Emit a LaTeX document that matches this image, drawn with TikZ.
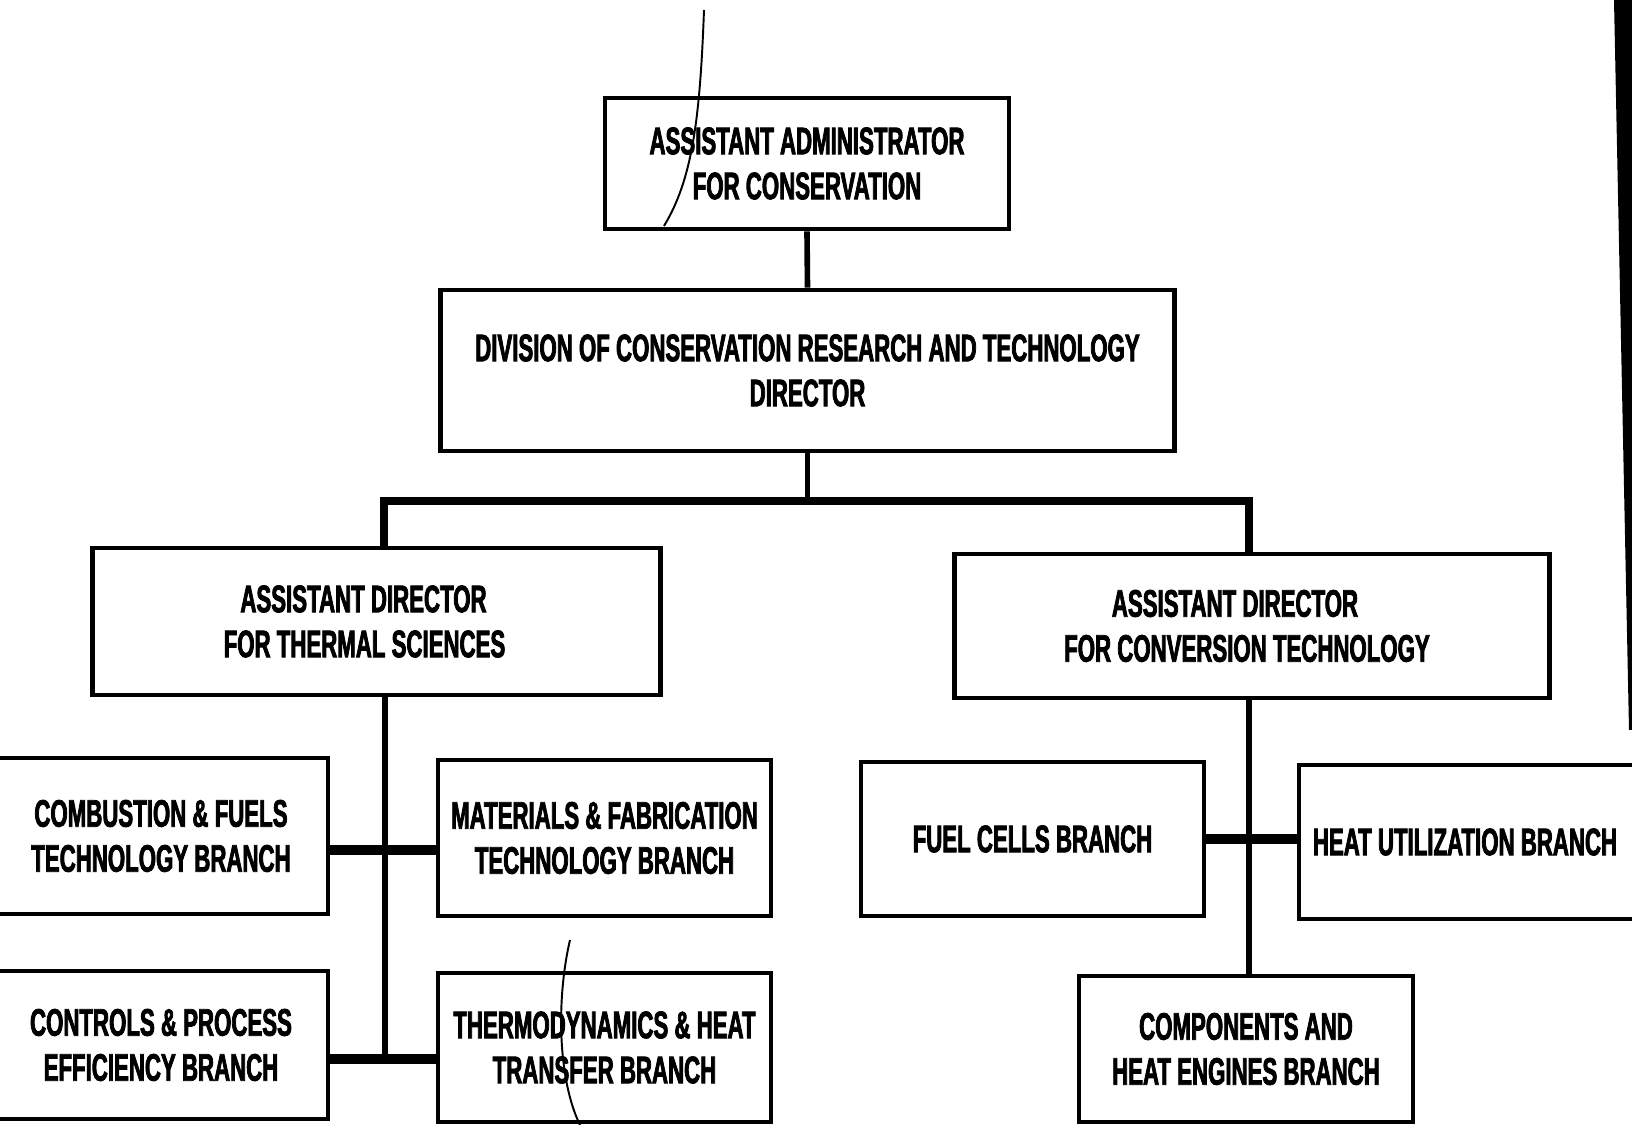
\documentclass[tikz,border=0pt]{standalone}
\usepackage{fontspec}
\newfontfamily\orgfont{Liberation Sans}[FakeStretch=0.58,FakeBold=2]
\begin{document}
\begin{tikzpicture}[x=0.01cm,y=-0.01cm,
  orgbox/.style={draw, rectangle, line width=1.35pt, inner sep=0pt, align=center,
    font=\orgfont\bfseries\fontsize{10.9}{12.8}\selectfont},
  link/.style={line width=1.6pt},
  busline/.style={line width=2.3pt, line join=miter},
  tee/.style={line width=2.7pt},
  penline/.style={line width=0.55pt}]
\useasboundingbox (0,0) rectangle (1632,1125);
\fill[white] (0,0) rectangle (1632,1125);
\clip (0,0) rectangle (1632,1125);

% top of the hierarchy
\node[orgbox, minimum width=4.04cm, minimum height=1.31cm] (admin) at (807,163.5)
  {ASSISTANT ADMINISTRATOR\\FOR CONSERVATION};
\node[orgbox, minimum width=7.33cm, minimum height=1.61cm] (div) at (807.5,370.5)
  {DIVISION OF CONSERVATION RESEARCH AND TECHNOLOGY\\DIRECTOR};

% assistant directors
\node[orgbox, minimum width=5.67cm, minimum height=1.47cm] (thermal) at (376.5,621.5)
  {ASSISTANT DIRECTOR\hspace*{0.26cm}\\FOR THERMAL SCIENCES\hspace*{0.24cm}};
\node[orgbox, minimum width=5.94cm, minimum height=1.44cm] (conv) at (1252,626)
  {ASSISTANT DIRECTOR\hspace*{0.34cm}\\FOR CONVERSION TECHNOLOGY\hspace*{0.1cm}};

% thermal sciences branches
\node[orgbox, minimum width=3.34cm, minimum height=1.56cm] (comb) at (161,836)
  {COMBUSTION \& FUELS\\TECHNOLOGY BRANCH};
\node[orgbox, minimum width=3.33cm, minimum height=1.56cm] (mat) at (604.5,838)
  {MATERIALS \& FABRICATION\\TECHNOLOGY BRANCH};
\node[orgbox, minimum width=3.34cm, minimum height=1.48cm] (ctrl) at (161,1045)
  {CONTROLS \& PROCESS\\EFFICIENCY BRANCH};
\node[orgbox, minimum width=3.33cm, minimum height=1.49cm] (thermo) at (604.5,1047.5)
  {THERMODYNAMICS \& HEAT\\TRANSFER BRANCH};

% conversion technology branches
\node[orgbox, minimum width=3.43cm, minimum height=1.54cm] (fuel) at (1032.5,839)
  {FUEL CELLS BRANCH};
\node[orgbox, minimum width=3.46cm, minimum height=1.54cm] (heat) at (1472,842)
  {HEAT UTILIZATION BRANCH\hspace*{0.14cm}};
\node[orgbox, minimum width=3.34cm, minimum height=1.46cm] (comp) at (1246,1049)
  {COMPONENTS AND\\HEAT ENGINES BRANCH};

% connectors
\coordinate (busL) at (384,501);
\coordinate (busR) at (1249,501);
\coordinate (trunkL) at (385,0);
\coordinate (trunkR) at (1249,0);

\draw[link] (admin.south) -- (div.north);
\draw[link] (div.south) -- (div.south |- busL);
\draw[busline] (thermal.north -| busL) -- (busL) -- (busR) -- (conv.north -| busR);

\draw[link] (thermal.south -| trunkL) -- ([yshift=-4]ctrl.east -| trunkL);
\draw[tee] ([yshift=-4]comb.east) -- ([yshift=-4]comb.east -| mat.west);
\draw[tee] ([yshift=-4]ctrl.east) -- ([yshift=-4]ctrl.east -| thermo.west);

\draw[link] (conv.south -| trunkR) -- (comp.north -| trunkR);
\draw[tee] (fuel.east) -- (fuel.east -| heat.west);

% dark strip along the right margin
\fill (1614,0) -- (1634,0) -- (1634,730) -- (1629,730) -- cycle;

% stray pen strokes
\draw[penline] (704,10) .. controls (700,120) and (692,180) .. (664,226);
\draw[penline] (570,940) .. controls (556,1000) and (558,1080) .. (580,1125);
\end{tikzpicture}
\end{document}
